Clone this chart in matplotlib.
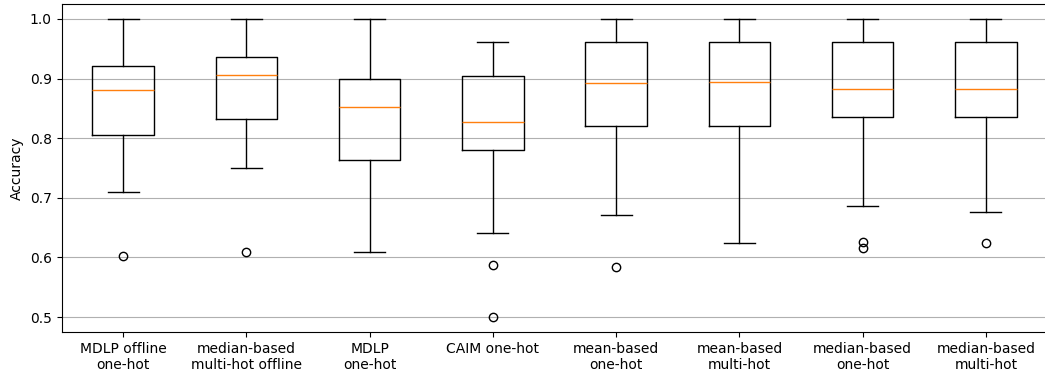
import matplotlib
matplotlib.use("Agg")
import matplotlib.pyplot as plt

labels = ["MDLP offline\none-hot", "median-based\nmulti-hot offline", "MDLP\none-hot",
          "CAIM one-hot", "mean-based\none-hot", "mean-based\nmulti-hot",
          "median-based\none-hot", "median-based\nmulti-hot"]
medians = [0.880, 0.906, 0.852, 0.827, 0.892, 0.895, 0.882, 0.882]
q1 = [0.806, 0.832, 0.764, 0.780, 0.820, 0.820, 0.836, 0.836]
q3 = [0.921, 0.936, 0.900, 0.905, 0.961, 0.961, 0.961, 0.961]
whislo = [0.709, 0.750, 0.609, 0.641, 0.672, 0.625, 0.687, 0.677]
whishi = [1.0, 1.0, 1.0, 0.961, 1.0, 1.0, 1.0, 1.0]
fliers = [[0.603], [0.609], [], [0.587, 0.500], [0.584], [], [0.626, 0.616], [0.625]]

stats = []
for i in range(len(labels)):
    stats.append({"med": medians[i], "q1": q1[i], "q3": q3[i],
                  "whislo": whislo[i], "whishi": whishi[i],
                  "fliers": fliers[i], "label": labels[i]})

fig = plt.figure(figsize=(10.45, 3.76), dpi=100)
ax = fig.add_axes([61.5 / 1045, 44 / 376, 986 / 1045, 328 / 376])
ax.bxp(stats)
ax.yaxis.grid(True)
ax.set_axisbelow(True)
ax.set_ylabel("Accuracy")
# right edge of the original figure was cropped away
ax.spines["right"].set_visible(False)

fig.savefig("out.png", dpi=100)
